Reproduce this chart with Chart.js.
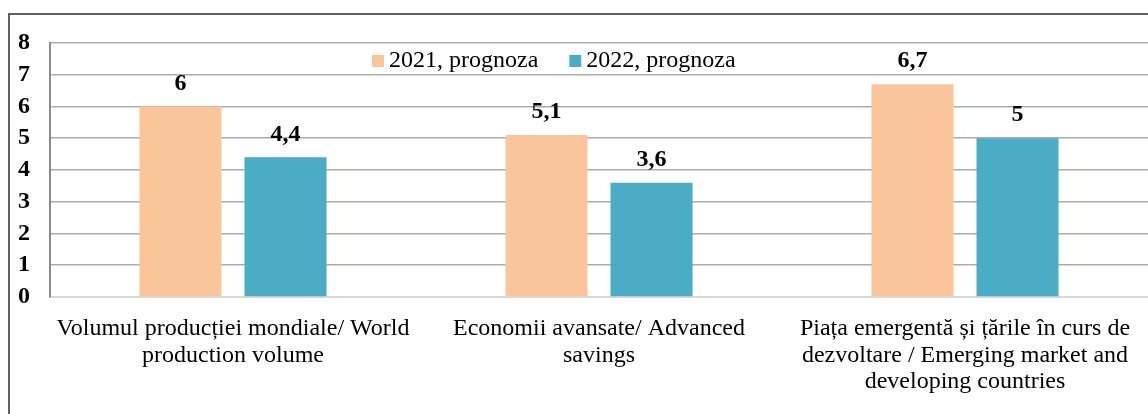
<!DOCTYPE html>
<html>
<head>
<meta charset="utf-8">
<script src="https://cdn.jsdelivr.net/npm/chart.js@4/dist/chart.umd.min.js"></script>
<style>
  html, body { margin: 0; padding: 0; background: #fff; }
  body { width: 1148px; height: 414px; overflow: hidden; position: relative; }
  .frame { position: absolute; left: 8px; top: 13px; width: 1200px; height: 450px; border: 2px solid #5f5f5f; }
  .wrap { position: absolute; left: 0; top: 0; width: 1148px; height: 414px; }
</style>
</head>
<body>
<div class="frame"></div>
<div class="wrap"><canvas id="chart"></canvas></div>
<script>
// chart data
const categories = [
  ['Volumul producției mondiale/ World', 'production volume'],
  ['Economii avansate/ Advanced', 'savings'],
  ['Piața emergentă și țările în curs de', 'dezvoltare / Emerging market and', 'developing countries']
];
const seriesNames = ['2021, prognoza', '2022, prognoza'];
const values2021 = [6, 5.1, 6.7];
const values2022 = [4.4, 3.6, 5];
const yTicks = [0, 1, 2, 3, 4, 5, 6, 7, 8];
const colors = ['#FAC59A', '#4BACC6'];

const serif = "'Liberation Serif', 'Times New Roman', serif";

// values over the bars, comma as decimal mark
const barLabels = {
  id: 'barLabels',
  afterDatasetsDraw(chart) {
    const ctx = chart.ctx;
    ctx.save();
    ctx.font = 'bold 24px ' + serif;
    ctx.fillStyle = '#000';
    ctx.textAlign = 'center';
    ctx.textBaseline = 'middle';
    chart.data.datasets.forEach((ds, i) => {
      chart.getDatasetMeta(i).data.forEach((bar, j) => {
        ctx.fillText(String(ds.data[j]).replace('.', ','), bar.x, bar.y - 23);
      });
    });
    ctx.restore();
  }
};

// legend drawn inside the plot, near the top
const innerLegend = {
  id: 'innerLegend',
  afterDraw(chart) {
    const ctx = chart.ctx;
    ctx.save();
    ctx.font = '24px ' + serif;
    ctx.textBaseline = 'middle';
    let x = 372;
    const y = 61;
    chart.data.datasets.forEach(ds => {
      ctx.fillStyle = ds.backgroundColor;
      ctx.fillRect(x, y - 6, 12, 12);
      ctx.fillStyle = '#000';
      ctx.fillText(ds.label, x + 17, y);
      x += 17 + ctx.measureText(ds.label).width + 31;
    });
    ctx.restore();
  }
};

new Chart(document.getElementById('chart'), {
  type: 'bar',
  data: {
    labels: categories,
    datasets: [
      { label: seriesNames[0], data: values2021, backgroundColor: colors[0] },
      { label: seriesNames[1], data: values2022, backgroundColor: colors[1] }
    ]
  },
  options: {
    responsive: true,
    maintainAspectRatio: false,
    animation: false,
    categoryPercentage: 0.574,
    barPercentage: 0.781,
    layout: { padding: { top: 43, right: 0, bottom: 0, left: 0 } },
    plugins: {
      legend: { display: false },
      tooltip: { enabled: false }
    },
    scales: {
      x: {
        grid: { display: false },
        border: { color: '#D9D9D9', width: 2 },
        ticks: {
          color: '#000',
          font: { family: serif, size: 24, lineHeight: 1.1 },
          padding: 11,
          maxRotation: 0,
          autoSkip: false
        },
        afterFit(scale) { scale.height = 117; }
      },
      y: {
        min: 0,
        max: 8,
        afterBuildTicks(scale) { scale.ticks = yTicks.map(v => ({ value: v })); },
        grid: {
          color: ctx => ctx.tick && ctx.tick.value === 0 ? 'rgba(0,0,0,0)' : '#ABABAB',
          lineWidth: 1.6,
          drawTicks: false
        },
        border: { color: '#8A8A8A', width: 2 },
        ticks: {
          color: '#000',
          font: { family: serif, size: 24, weight: 'bold' },
          padding: 20,
          autoSkip: false
        },
        afterFit(scale) { scale.width = 50; }
      }
    }
  },
  plugins: [barLabels, innerLegend]
});
</script>
</body>
</html>
